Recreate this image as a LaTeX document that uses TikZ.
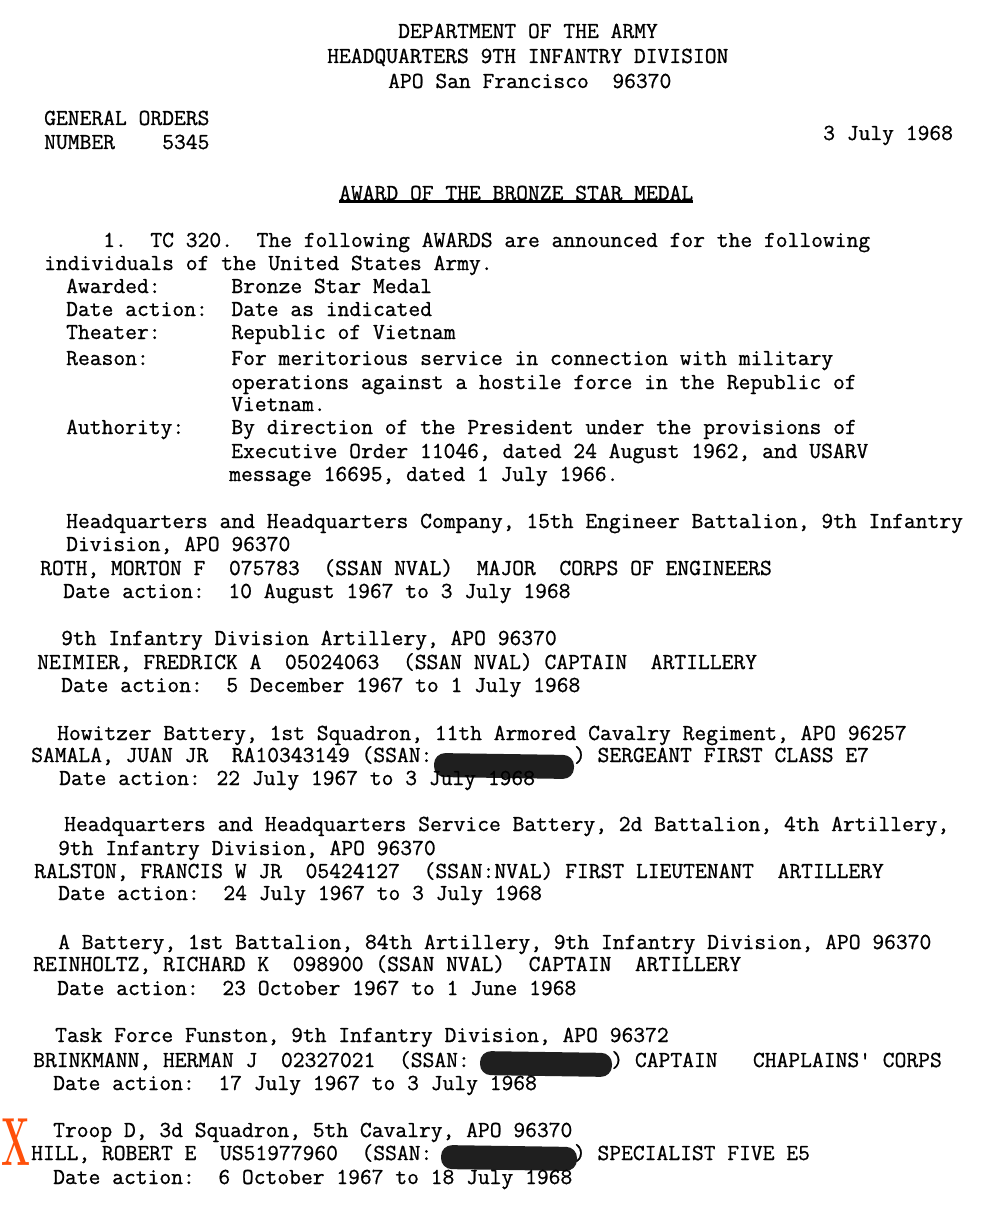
\documentclass[tikz,border=0pt]{standalone}
\usepackage{fontspec}
\usepackage{graphicx}
\newfontfamily\tw{lmmono12-regular.otf}[FakeBold=0.8]
\newlength\cwd
\settowidth\cwd{\tw\fontsize{20}{20}\selectfont M}
\pgfmathsetmacro\tsz{20*11.8/\cwd}
\newcommand\tfont{\tw\fontsize{\tsz}{\tsz}\selectfont}
\definecolor{xred}{RGB}{255,80,10}
\begin{document}
\begin{tikzpicture}[x=1pt,y=-1pt,
  tl/.style={anchor=base west, inner sep=0pt, font=\tfont},
  blob/.style={fill=black!88, rounded corners=11pt, minimum height=24pt, rotate=-0.85, inner sep=0pt, anchor=center}]
\useasboundingbox[fill=white] (0,0) rectangle (1000,1206);
% header
\node[tl] (hd1) at (398,38) {DEPARTMENT OF THE ARMY};
\node[tl] (hd2) at (327,63) {HEADQUARTERS 9TH INFANTRY DIVISION};
\node[tl] (hd3) at (388,88) {APO San Francisco~~96370};
\node[tl] (go1) at (44,125) {GENERAL ORDERS};
\node[tl] (go2) at (44,149) {NUMBER~~~~5345};
\node[tl] (date) at (823,140) {3 July 1968};
\node[tl] (title) at (339,200) {AWARD OF THE BRONZE STAR MEDAL};
\draw[line width=2.5pt] ([yshift=-1pt]title.south west) -- ([yshift=-1pt]title.south east);
% paragraph 1
\node[tl] (b1) at (103,247) {1.~~TC 320.~~The following AWARDS are announced for the following};
\node[tl] (b2) at (44,270) {individuals of the United States Army.};
\node[tl] (b3) at (66,293) {Awarded:~~~~~~Bronze Star Medal};
\node[tl] (b4) at (66,316) {Date action:~~Date as indicated};
\node[tl] (b5) at (66,339) {Theater:~~~~~~Republic of Vietnam};
\node[tl] (b6) at (66,365) {Reason:~~~~~~~For meritorious service in connection with military};
\node[tl] (b7) at (231,389) {operations against a hostile force in the Republic of};
\node[tl] (b8) at (231,411) {Vietnam.};
\node[tl] (b9) at (66,434) {Authority:~~~~By direction of the President under the provisions of};
\node[tl] (b10) at (231,458) {Executive Order 11046, dated 24 August 1962, and USARV};
\node[tl] (b11) at (229,481) {message 16695, dated 1 July 1966.};
% entry 1
\node[tl] (e1a) at (66,528) {Headquarters and Headquarters Company, 15th Engineer Battalion, 9th Infantry};
\node[tl] (e1b) at (66,551) {Division, APO 96370};
\node[tl] (e1c) at (40,575) {ROTH, MORTON F~~075783~~(SSAN NVAL)~~MAJOR~~CORPS OF ENGINEERS};
\node[tl] (e1d) at (63,598) {Date action:~~10 August 1967 to 3 July 1968};
% entry 2
\node[tl] (e2a) at (61,645) {9th Infantry Division Artillery, APO 96370};
\node[tl] (e2b) at (37,669) {NEIMIER, FREDRICK A~~05024063~~(SSAN NVAL) CAPTAIN~~ARTILLERY};
\node[tl] (e2c) at (61,692) {Date action:~~5 December 1967 to 1 July 1968};
% entry 3
\node[tl] (e3a) at (57,740) {Howitzer Battery, 1st Squadron, 11th Armored Cavalry Regiment, APO 96257};
\node[tl] (e3b) at (31,762) {SAMALA, JUAN JR~~RA10343149 (SSAN:~~~~~~~~~~~~) SERGEANT FIRST CLASS E7};
\node[blob, minimum width=140pt] (r1) at (504,766) {};
\node[tl] (e3c) at (59,785) {Date action: 22 July 1967 to 3 July 1968};
% entry 4
\node[tl] (e4a) at (64,831) {Headquarters and Headquarters Service Battery, 2d Battalion, 4th Artillery,};
\node[tl] (e4b) at (58,855) {9th Infantry Division, APO 96370};
\node[tl] (e4c) at (34,878) {RALSTON, FRANCIS W JR~~05424127~~(SSAN:NVAL) FIRST LIEUTENANT~~ARTILLERY};
\node[tl] (e4d) at (58,900) {Date action:~~24 July 1967 to 3 July 1968};
% entry 5
\node[tl] (e5a) at (58,949) {A Battery, 1st Battalion, 84th Artillery, 9th Infantry Division, APO 96370};
\node[tl] (e5b) at (33,971) {REINHOLTZ, RICHARD K~~098900 (SSAN NVAL)~~CAPTAIN~~ARTILLERY};
\node[tl] (e5c) at (57,995) {Date action:~~23 October 1967 to 1 June 1968};
% entry 6
\node[tl] (e6a) at (55,1042) {Task Force Funston, 9th Infantry Division, APO 96372};
\node[tl] (e6b) at (33,1067) {BRINKMANN, HERMAN J~~02327021~~(SSAN:~~~~~~~~~~~~) CAPTAIN~~~CHAPLAINS' CORPS};
\node[blob, minimum width=132pt] (r2) at (546,1064) {};
\node[tl] (e6c) at (53,1090) {Date action:~~17 July 1967 to 3 July 1968};
% entry 7
\node[tl] (e7a) at (53,1137) {Troop D, 3d Squadron, 5th Cavalry, APO 96370};
\node[tl] (e7b) at (31,1160) {HILL, ROBERT E~~US51977960~~(SSAN:~~~~~~~~~~~~) SPECIALIST FIVE E5};
\node[blob, minimum width=136pt] (r3) at (509,1158) {};
\node[tl] (e7c) at (53,1184) {Date action:~~6 October 1967 to 18 July 1968};
\node[text=xred, inner sep=0pt, font=\fontsize{68}{68}\selectfont\bfseries] (mark) at (16,1142) {\scalebox{0.5}[1]{X}};
\end{tikzpicture}
\end{document}
